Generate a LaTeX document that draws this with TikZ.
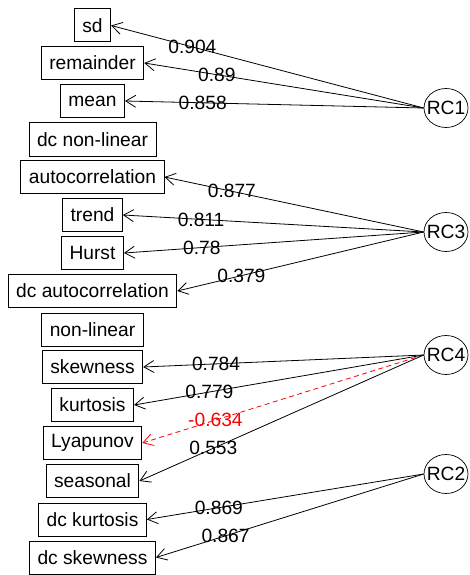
\documentclass[tikz,border=0pt]{standalone}
\usepackage{fontspec}
\setmainfont{Liberation Sans}
\usetikzlibrary{arrows.meta,shapes.geometric}

\begin{document}
\begin{tikzpicture}[x=1pt,y=-1pt,
        font=\fontsize{19.2}{19.2}\selectfont,
        var/.style={draw, line width=1pt, inner xsep=8pt, minimum height=33pt},
        fac/.style={draw, ellipse, line width=0.7pt, minimum width=44pt, minimum height=39pt, inner sep=0pt},
        ld/.style={-{Straight Barb[length=10pt,width=12pt]}, line width=0.8pt},
        neg/.style={ld, red, dash pattern=on 5pt off 3.5pt},
        lbl/.style={pos=0.74, inner sep=0pt}]
        \useasboundingbox (0,0) rectangle (470,575);

        % Variables
        \node[var] (sd)   at (92.5,25.5) {sd};
        \node[var] (rem)  at (92.5,63)   {remainder};
        \node[var] (mean) at (92.5,101)  {mean};
        \node[var] (dcnl) at (92.5,139.5){dc non-linear};
        \node[var] (acf)  at (92.5,177)  {autocorrelation};
        \node[var] (trend) at (92.5,215) {trend};
        \node[var] (hurst) at (92.5,253) {Hurst};
        \node[var] (dcacf) at (92.5,291) {dc autocorrelation};
        \node[var] (nl)   at (92.5,329.5){non-linear};
        \node[var] (skew) at (92.5,367)  {skewness};
        \node[var] (kurt) at (92.5,405)  {kurtosis};
        \node[var] (lyap) at (92.5,443)  {Lyapunov};
        \node[var] (seas) at (92.5,481)  {seasonal};
        \node[var] (dckurt) at (92.5,519.5) {dc kurtosis};
        \node[var] (dcskew) at (92.5,557.5) {dc skewness};

        % Factors
        \node[fac] (rc1) at (446,108) {\makebox[0pt]{RC1}};
        \node[fac] (rc3) at (446,232) {\makebox[0pt]{RC3}};
        \node[fac] (rc4) at (446,355) {\makebox[0pt]{RC4}};
        \node[fac] (rc2) at (446,474) {\makebox[0pt]{RC2}};

        % RC1
        \draw[ld] (rc1.west) -- node[lbl] {0.904} (sd.east);
        \draw[ld] (rc1.west) -- node[lbl] {0.89} (rem.east);
        \draw[ld] (rc1.west) -- node[lbl] {0.858} (mean.east);
        % RC3
        \draw[ld] (rc3.west) -- node[lbl] {0.877} (acf.east);
        \draw[ld] (rc3.west) -- node[lbl] {0.811} (trend.east);
        \draw[ld] (rc3.west) -- node[lbl] {0.78} (hurst.east);
        \draw[ld] (rc3.west) -- node[lbl] {0.379} (dcacf.east);
        % RC4
        \draw[ld] (rc4.west) -- node[lbl] {0.784} (skew.east);
        \draw[ld] (rc4.west) -- node[lbl] {0.779} (kurt.east);
        \draw[neg] (rc4.west) -- node[lbl] {-0.634} (lyap.east);
        \draw[ld] (rc4.west) -- node[lbl] {0.553} (seas.east);
        % RC2
        \draw[ld] (rc2.west) -- node[lbl] {0.869} (dckurt.east);
        \draw[ld] (rc2.west) -- node[lbl] {0.867} (dcskew.east);
    \end{tikzpicture}
\end{document}
